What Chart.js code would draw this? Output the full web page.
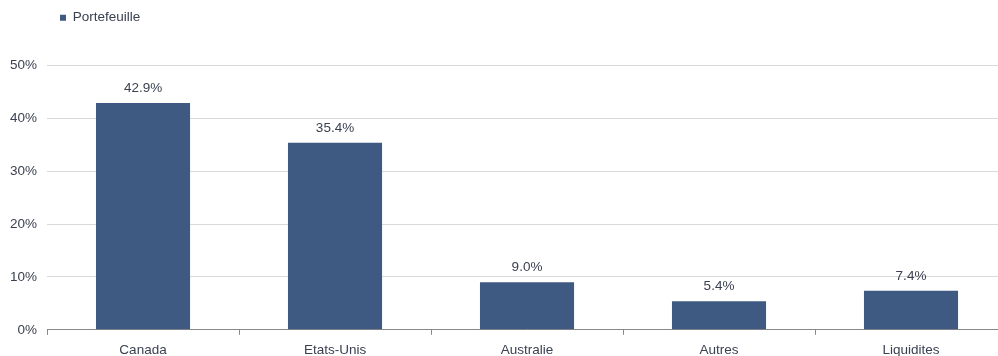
<!DOCTYPE html>
<html>
<head>
<meta charset="utf-8">
<script src="https://cdn.jsdelivr.net/npm/chart.js@4/dist/chart.umd.min.js"></script>
<style>
  html, body { margin: 0; padding: 0; background: #fff; overflow: hidden; }
  #wrap { width: 1007px; height: 365px; position: relative; }
</style>
</head>
<body>
<div id="wrap"><canvas id="Chart"></canvas></div>
<script>
const categories = ["Canada", "Etats-Unis", "Australie", "Autres", "Liquidites"];
const portefeuille = [42.9, 35.4, 9.0, 5.4, 7.4];
const seriesName = "Portefeuille";
const yTicks = [0, 10, 20, 30, 40, 50];

const barColor = "#3f5a82";
const textColor = "#3a4150";
const fontFamily = "'Liberation Sans', Arial, sans-serif";
const fontSize = 13.5;

// draw the value above each bar
const valueLabels = {
  id: "valueLabels",
  afterDatasetsDraw(chart) {
    const ctx = chart.ctx;
    ctx.save();
    ctx.font = fontSize + "px " + fontFamily;
    ctx.fillStyle = textColor;
    ctx.textAlign = "center";
    ctx.textBaseline = "bottom";
    chart.getDatasetMeta(0).data.forEach((bar, i) => {
      const v = chart.data.datasets[0].data[i];
      ctx.fillText(v.toFixed(1) + "%", bar.x, bar.y - 8);
    });
    ctx.restore();
  },
};

// move the legend a bit right and up (its box is kept tall for spacing)
const legendShift = {
  id: "legendShift",
  afterLayout(chart) {
    if (!chart.legend) return;
    chart.legend.left += 18;
    chart.legend.right += 18;
    chart.legend.top -= 31;
  },
};

const ctx = document.getElementById("Chart").getContext("2d");
new Chart(ctx, {
  type: "bar",
  data: {
    labels: categories,
    datasets: [
      {
        label: seriesName,
        data: portefeuille,
        backgroundColor: barColor,
        categoryPercentage: 1.0,
        barPercentage: 0.49,
      },
    ],
  },
  options: {
    responsive: true,
    maintainAspectRatio: false,
    animation: false,
    layout: { padding: { left: 0, right: 0, top: 0, bottom: 0 } },
    plugins: {
      legend: {
        position: "top",
        align: "start",
        labels: {
          usePointStyle: true,
          pointStyle: "rect",
          boxWidth: 6,
          boxHeight: 6,
          color: textColor,
          font: { size: fontSize, family: fontFamily },
          padding: 42,
        },
      },
      tooltip: { enabled: false },
    },
    scales: {
      x: {
        grid: {
          offset: true,
          drawOnChartArea: false,
          drawTicks: true,
          tickLength: 5,
          color: "#888",
        },
        border: { color: "#888", width: 1 },
        ticks: {
          color: textColor,
          font: { size: fontSize, family: fontFamily },
          padding: 7,
        },
      },
      y: {
        min: 0,
        max: 50,
        afterBuildTicks(axis) {
          axis.ticks = yTicks.map((v) => ({ value: v }));
        },
        grid: { color: "#d9d9d9", drawTicks: false },
        border: { display: false },
        ticks: {
          color: textColor,
          font: { size: fontSize, family: fontFamily },
          padding: 10,
          callback: (v) => v + "%",
        },
      },
    },
  },
  plugins: [valueLabels, legendShift],
});
</script>
</body>
</html>
